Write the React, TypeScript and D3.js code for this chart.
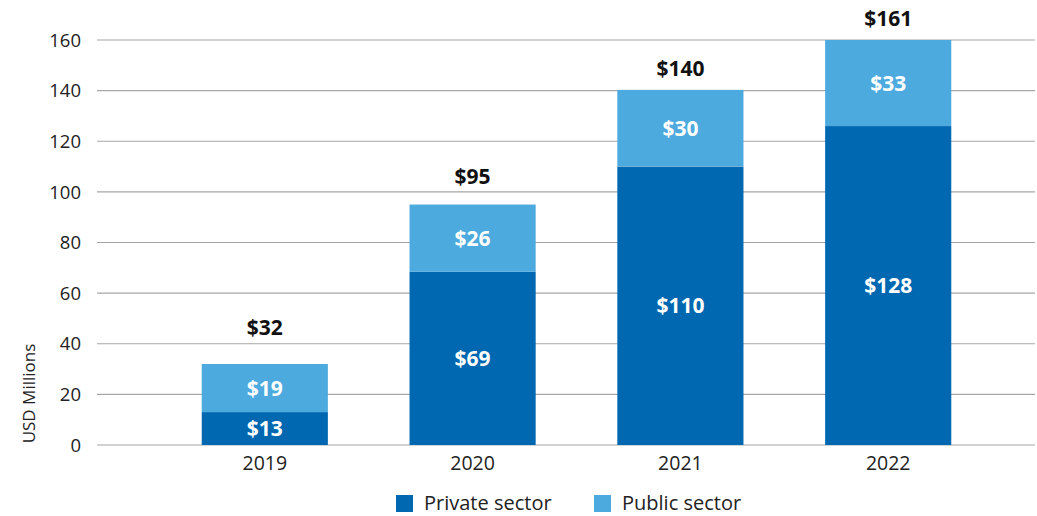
import React from "react";
import * as d3 from "d3";

const years = ["2019", "2020", "2021", "2022"];
const privateSector = [13, 68.5, 110, 126];
const publicSector = [19, 26.5, 30.3, 34];
const privateLabels = ["$13", "$69", "$110", "$128"];
const publicLabels = ["$19", "$26", "$30", "$33"];
const totalValues = [32, 95, 140, 161];
const totalLabels = ["$32", "$95", "$140", "$161"];
const yTicks = [0, 20, 40, 60, 80, 100, 120, 140, 160];

const W = 1037;
const H = 516;
const FONT = "'Open Sans', Lato, sans-serif";
const C_PRIVATE = "#0067b1";
const C_PUBLIC = "#4daade";

export default function App() {
  const x = d3.scaleBand().domain(years).range([161, 992]).paddingInner(0.393).paddingOuter(0.196);
  const y = d3.scaleLinear().domain([0, 160]).range([445, 40]);
  const yTotal = d3.scaleLinear().domain([0, 160]).range([403.5, 21]);
  const gridX0 = 97;
  const gridX1 = 1035;

  return (
    <svg width={W} height={H} style={{ position: "absolute", left: 0, top: 0, background: "#fff" }} fontFamily={FONT}>
      {yTicks.map((t) => (
        <g key={t}>
          <line x1={gridX0} x2={gridX1} y1={y(t)} y2={y(t)} stroke="#a6a6a6" strokeWidth={1.2} />
          <text x={81} y={y(t)} dy="0.36em" textAnchor="end" fontSize={18.5} fill="#222">{t}</text>
        </g>
      ))}
      <text transform={`translate(35, ${393.5}) rotate(-90)`} textAnchor="middle" fontSize={17} fill="#222">USD Millions</text>
      {years.map((yr, i) => {
        const bx = x(yr)!;
        const bw = x.bandwidth();
        const p = privateSector[i];
        const q = publicSector[i];
        const cx = bx + bw / 2;
        return (
          <g key={yr}>
            <rect x={bx} width={bw} y={y(p)} height={y(0) - y(p)} fill={C_PRIVATE} />
            <rect x={bx} width={bw} y={y(p + q)} height={y(p) - y(p + q)} fill={C_PUBLIC} />
            <text x={cx} y={(y(0) + y(p)) / 2} dy="0.36em" textAnchor="middle" fontSize={21} fontWeight={700} fill="#fff">{privateLabels[i]}</text>
            <text x={cx} y={(y(p) + y(p + q)) / 2} dy="0.36em" textAnchor="middle" fontSize={21} fontWeight={700} fill="#fff">{publicLabels[i]}</text>
            <text x={cx} y={yTotal(totalValues[i])} dy="0.36em" textAnchor="middle" fontSize={21} fontWeight={700} fill="#111">{totalLabels[i]}</text>
            <text x={cx} y={463} dy="0.36em" textAnchor="middle" fontSize={19.5} fill="#222">{yr}</text>
          </g>
        );
      })}
      <rect x={396} y={495} width={17} height={17} fill={C_PRIVATE} />
      <text x={424} y={503} dy="0.36em" fontSize={20} fill="#222">Private sector</text>
      <rect x={594} y={495} width={17} height={17} fill={C_PUBLIC} />
      <text x={622} y={503} dy="0.36em" fontSize={20} fill="#222">Public sector</text>
    </svg>
  );
}
